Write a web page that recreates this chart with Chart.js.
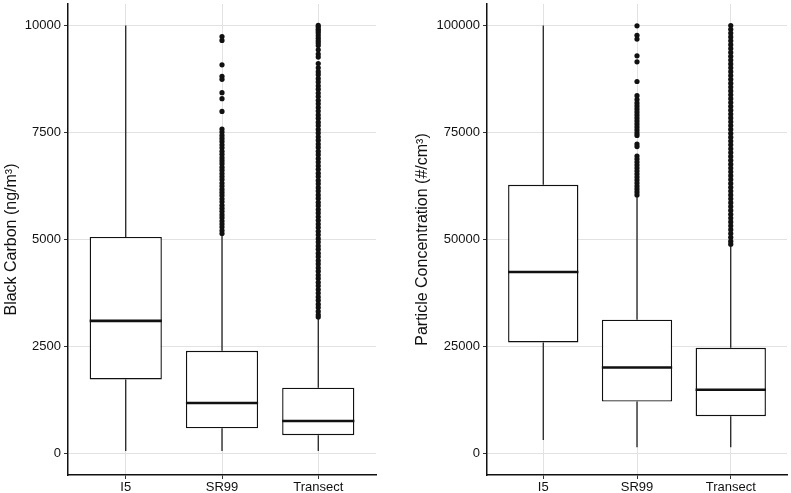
<!DOCTYPE html>
<html>
<head>
<meta charset="utf-8">
<script src="https://cdn.jsdelivr.net/npm/chart.js@4.4.0/dist/chart.umd.min.js"></script>
<style>
  body { margin: 0; background: #fff; }
  #bcChart { position: absolute; left: 0; top: 0; }
  #pnChart { position: absolute; left: 411px; top: 0; }
</style>
</head>
<body>
<canvas id="bcChart" width="380" height="493"></canvas>
<canvas id="pnChart" width="380" height="493"></canvas>
<script>
const categories = ['I5', 'SR99', 'Transect']

// Black Carbon (ng/m3): whisker ends, quartiles, median
const bcLow = [60, 60, 60]
const bcQ1 = [1730, 590, 430]
const bcMedian = [3100, 1180, 760]
const bcQ3 = [5060, 2400, 1540]
const bcHigh = [10000, 5080, 3170]
const bcOutI5 = []
const bcOutSR99 = [9740, 9650, 9080, 8810, 8740, 8430, 8290, 7990, 7580, 7510, 7430, 7360, 7290, 7210,
    7140, 7060, 6990, 6910, 6840, 6770, 6690, 6620, 6540, 6470, 6400, 6320, 6250, 6170, 6100, 6030,
    5950, 5880, 5800, 5730, 5660, 5580, 5510, 5430, 5360, 5290, 5210, 5140]
const bcOutTransect = [10000, 9960, 9910, 9870, 9820, 9760, 9700, 9640, 9590, 9530, 9430, 9330, 9260,
    9110, 9010, 8920, 8850, 8760, 8680, 8590, 8510, 8420, 8340, 8250, 8170, 8080, 8000, 7910, 7830,
    7740, 7660, 7570, 7490, 7400, 7320, 7230, 7150, 7060, 6980, 6890, 6810, 6720, 6640, 6550, 6470,
    6380, 6300, 6210, 6130, 6040, 5960, 5870, 5790, 5700, 5620, 5530, 5450, 5360, 5280, 5190, 5110,
    5020, 4940, 4850, 4770, 4680, 4600, 4510, 4430, 4340, 4260, 4170, 4090, 4000, 3920, 3830, 3750,
    3660, 3580, 3490, 3410, 3320, 3240, 3190]
const bcTicks = [0, 2500, 5000, 7500, 10000]

// Particle Concentration (#/cm3)
const pnLow = [3170, 1480, 1480]
const pnQ1 = [25950, 12140, 8730]
const pnMedian = [42400, 20090, 14920]
const pnQ3 = [62790, 31280, 24720]
const pnHigh = [100000, 59900, 48500]
const pnOutI5 = []
const pnOutSR99 = [99900, 97700, 96800, 92900, 91500, 86900, 83600, 82700, 81900, 81200, 80500, 79800,
    79100, 78400, 77700, 77000, 76300, 75600, 74900, 74300, 72300, 71700, 69500, 68800, 68100, 67400,
    66700, 66000, 65300, 64600, 63900, 63200, 62500, 61800, 61100, 60400]
const pnOutTransect = [99950, 99100, 98200, 97300, 96400, 95500, 94600, 93700, 92800, 91900, 91000,
    90100, 89200, 88300, 87400, 86500, 85600, 84700, 83800, 82900, 82000, 81100, 80200, 79300, 78400,
    77500, 76600, 75700, 74800, 73900, 73000, 72100, 71200, 70300, 69400, 68500, 67600, 66700, 65800,
    64900, 64000, 63100, 62200, 61300, 60400, 59500, 58600, 57700, 56800, 55900, 55000, 54100, 53200,
    52300, 51400, 50500, 49600, 48900]
const pnTicks = [0, 25000, 50000, 75000, 100000]

const boxHalf = 0.375
const ink = '#111'
const tickFont = { family: 'Liberation Sans, Arial, sans-serif', size: 13 }

const buildDatasets = (low, q1, med, q3, high, outliers) => {
    const boxes = categories.map((c, i) => ({ x: i + 1, y: [q1[i], q3[i]] }))
    const whiskers = []
    const medians = []
    categories.forEach((c, i) => {
        const x = i + 1
        whiskers.push({ x, y: low[i] }, { x, y: q1[i] }, { x, y: null },
                      { x, y: q3[i] }, { x, y: high[i] }, { x, y: null })
        medians.push({ x: x - boxHalf, y: med[i] }, { x: x + boxHalf, y: med[i] }, { x, y: null })
    })
    const points = []
    outliers.forEach((list, i) => list.forEach(v => points.push({ x: i + 1, y: v })))
    return [
        { type: 'line', data: whiskers, borderColor: ink, borderWidth: 1.2, pointRadius: 0, spanGaps: false, order: 3 },
        { type: 'bar', data: boxes, backgroundColor: '#fff', borderColor: ink, borderWidth: 1.4,
          borderSkipped: false, barPercentage: 0.75, categoryPercentage: 1, order: 2 },
        { type: 'line', data: medians, borderColor: ink, borderWidth: 2.6, pointRadius: 0, spanGaps: false, order: 1 },
        { type: 'scatter', data: points, backgroundColor: ink, borderWidth: 0, pointRadius: 2.6, order: 0 }
    ]
}

const makeOptions = (yTitle, yTicks, yMin, yMax, axisWidth, padRight) => ({
    responsive: false,
    animation: false,
    layout: { padding: { left: 0, right: padRight, top: 0, bottom: 0 } },
    plugins: { legend: { display: false }, tooltip: { enabled: false } },
    scales: {
        x: {
            type: 'linear', min: 0.4, max: 3.6, offset: false,
            afterBuildTicks: s => { s.ticks = categories.map((c, i) => ({ value: i + 1 })) },
            afterFit: s => { s.height = 18; s.paddingLeft = 0; s.paddingRight = 0 },
            ticks: { callback: v => categories[v - 1], autoSkip: false, maxRotation: 0, padding: 1, color: ink, font: tickFont },
            grid: { offset: false, color: '#e2e2e2', lineWidth: 1, tickColor: '#333', tickLength: 4 },
            border: { color: ink, width: 1.5 }
        },
        y: {
            min: yMin, max: yMax,
            afterBuildTicks: s => { s.ticks = yTicks.map(v => ({ value: v })) },
            afterFit: s => { s.width = axisWidth; s.paddingTop = 0; s.paddingBottom = 0 },
            ticks: { callback: v => String(v), padding: 3, color: ink, font: tickFont },
            grid: { color: '#e2e2e2', lineWidth: 1, tickColor: '#333', tickLength: 4 },
            border: { color: ink, width: 1.5 },
            title: { display: true, text: yTitle, color: ink, padding: { top: 2, bottom: 0 },
                     font: { family: 'Liberation Sans, Arial, sans-serif', size: 16 } }
        }
    }
})

new Chart(document.getElementById('bcChart'), {
    type: 'bar',
    data: { datasets: buildDatasets(bcLow, bcQ1, bcMedian, bcQ3, bcHigh, [bcOutI5, bcOutSR99, bcOutTransect]) },
    options: makeOptions('Black Carbon (ng/m³)', bcTicks, -500, 10500, 68, 2)
})

new Chart(document.getElementById('pnChart'), {
    type: 'bar',
    data: { datasets: buildDatasets(pnLow, pnQ1, pnMedian, pnQ3, pnHigh, [pnOutI5, pnOutSR99, pnOutTransect]) },
    options: makeOptions('Particle Concentration (#/cm³)', pnTicks, -5000, 105000, 76, 1)
})
</script>
</body>
</html>
